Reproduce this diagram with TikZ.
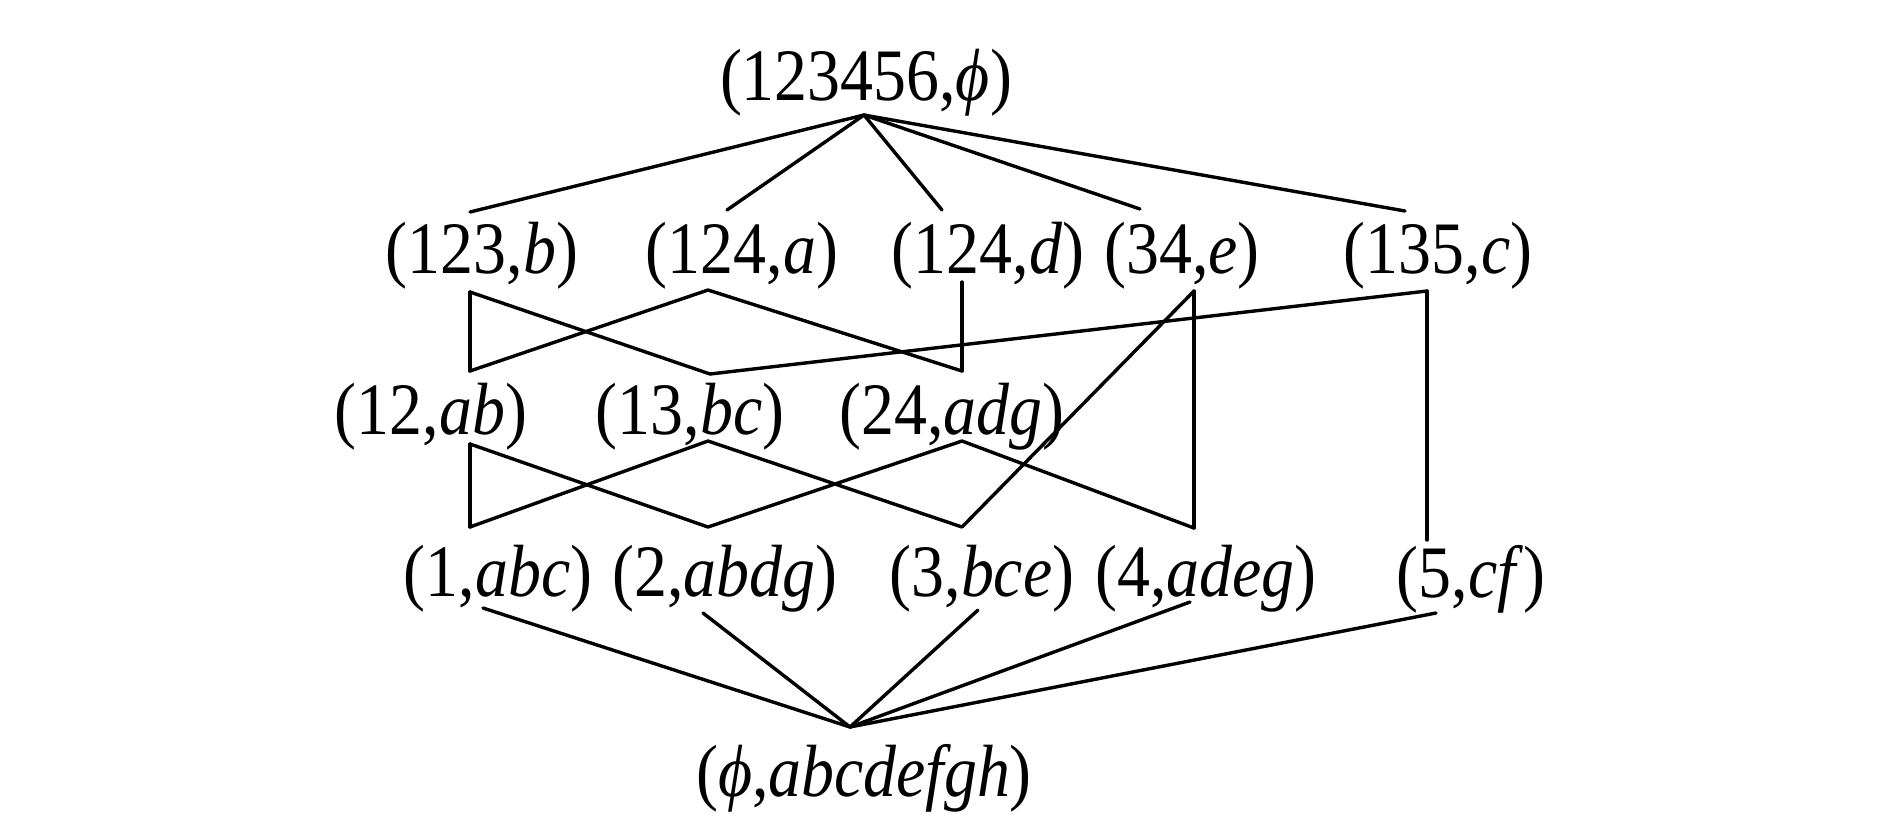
\documentclass[tikz,border=0pt]{standalone}
\usepackage{fontspec}
\setmainfont{Liberation Serif}[FakeStretch=0.89]
\newcommand{\emptyphi}{\textit{ϕ}}
\begin{document}
\begin{tikzpicture}[x=0.5pt,y=-0.5pt,
  lbl/.style={inner sep=0pt, font=\fontsize{37}{40}\selectfont},
  edge/.style={line width=1.7pt, line cap=round, line join=round}]
\useasboundingbox[fill=white] (0,0) rectangle (1890,827);
% labels
\node[lbl] (top) at (866,83) {(123456,\emptyphi)};
\node[lbl] (n123b) at (482,256) {(123,\textit{b})};
\node[lbl] (n124a) at (742,256) {(124,\textit{a})};
\node[lbl] (n124d) at (988,256) {(124,\textit{d})};
\node[lbl] (n34e) at (1182,256) {(34,\textit{e})};
\node[lbl] (n135c) at (1438,256) {(135,\textit{c})};
\node[lbl] (n12ab) at (431,417) {(12,\textit{ab})};
\node[lbl] (n13bc) at (690,417) {(13,\textit{bc})};
\node[lbl] (n24adg) at (952,417) {(24,\textit{adg})};
\node[lbl] (n1abc) at (498,579) {(1,\textit{abc})};
\node[lbl] (n2abdg) at (725,579) {(2,\textit{abdg})};
\node[lbl] (n3bce) at (982,579) {(3,\textit{bce})};
\node[lbl] (n4adeg) at (1206,579) {(4,\textit{adeg})};
\node[lbl] (n5cf) at (1471,579) {(5,\textit{cf})};
\node[lbl] (bot) at (864,778) {(\emptyphi,\textit{abcdefgh})};
% connector ends
\coordinate (top-b) at (864,115);
\coordinate (n123b-t) at (470,212);
\coordinate (n124a-t) at (727,210);
\coordinate (n124d-t) at (942,210);
\coordinate (n34e-t) at (1140,209);
\coordinate (n135c-t) at (1405,211);
\coordinate (n123b-b) at (470,292);
\coordinate (n124a-b) at (708,290);
\coordinate (n124d-b) at (962,282);
\coordinate (n34e-b) at (1194,291);
\coordinate (n135c-b) at (1427,291);
\coordinate (n12ab-t) at (470,371);
\coordinate (n13bc-t) at (710,374);
\coordinate (n24adg-t) at (962,371);
\coordinate (n12ab-b) at (470,444);
\coordinate (n13bc-b) at (708,441);
\coordinate (n24adg-b) at (962,441);
\coordinate (n1abc-t) at (470,527);
\coordinate (n2abdg-t) at (708,527);
\coordinate (n3bce-t) at (962,527);
\coordinate (n4adeg-t) at (1194,528);
\coordinate (n5cf-t) at (1427,540);
\coordinate (n1abc-b) at (483,608);
\coordinate (n2abdg-b) at (703,613);
\coordinate (n3bce-b) at (978,610);
\coordinate (n4adeg-b) at (1190,602);
\coordinate (n5cf-b) at (1436,613);
\coordinate (bot-t) at (850,727);
% connectors
\draw[edge] (top-b) -- (n123b-t);
\draw[edge] (top-b) -- (n124a-t);
\draw[edge] (top-b) -- (n124d-t);
\draw[edge] (top-b) -- (n34e-t);
\draw[edge] (top-b) -- (n135c-t);
\draw[edge] (n123b-b) -- (n12ab-t);
\draw[edge] (n123b-b) -- (n13bc-t);
\draw[edge] (n124a-b) -- (n12ab-t);
\draw[edge] (n124a-b) -- (n24adg-t);
\draw[edge] (n124d-b) -- (n24adg-t);
\draw[edge] (n135c-b) -- (n13bc-t);
\draw[edge] (n135c-b) -- (n5cf-t);
\draw[edge] (n34e-b) -- (n3bce-t);
\draw[edge] (n34e-b) -- (n4adeg-t);
\draw[edge] (n12ab-b) -- (n1abc-t);
\draw[edge] (n12ab-b) -- (n2abdg-t);
\draw[edge] (n13bc-b) -- (n1abc-t);
\draw[edge] (n13bc-b) -- (n3bce-t);
\draw[edge] (n24adg-b) -- (n2abdg-t);
\draw[edge] (n24adg-b) -- (n4adeg-t);
\draw[edge] (n1abc-b) -- (bot-t);
\draw[edge] (n2abdg-b) -- (bot-t);
\draw[edge] (n3bce-b) -- (bot-t);
\draw[edge] (n4adeg-b) -- (bot-t);
\draw[edge] (n5cf-b) -- (bot-t);
\end{tikzpicture}
\end{document}
